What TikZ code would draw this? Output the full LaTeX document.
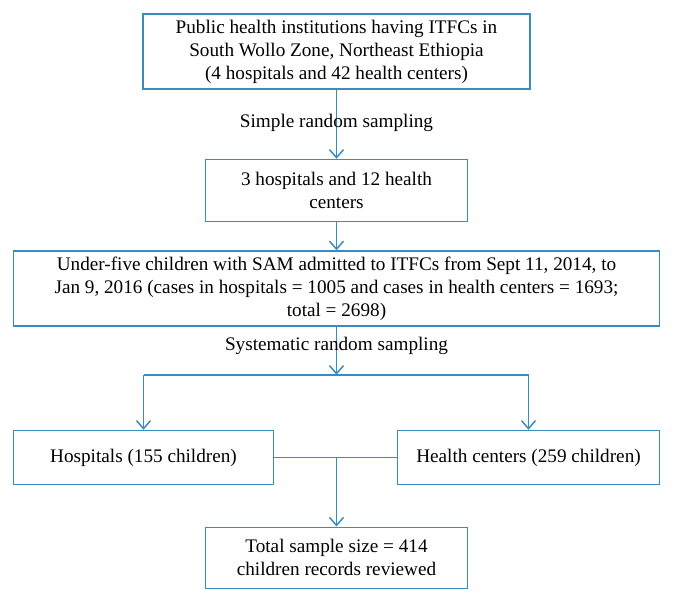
\documentclass[tikz,border=0pt]{standalone}
\usepackage{fontspec}
\setmainfont{Liberation Serif}
\usetikzlibrary{arrows.meta,positioning}

\definecolor{flowblue}{RGB}{58,140,190}

\begin{document}
\begin{tikzpicture}[
  x=1pt, y=1pt,
  font=\fontsize{19.2}{23}\selectfont,
  every node/.style={align=center},
  box/.style={draw=flowblue, line width=1.5pt, inner sep=2pt},
  arr/.style={-{Straight Barb[length=8pt,width=14pt]}, draw=flowblue, line width=1.5pt},
  lin/.style={draw=flowblue, line width=1.5pt},
]
\useasboundingbox (0,0) rectangle (674,-598);

\node[box, minimum width=387pt, minimum height=75pt] (inst) at (336.5,-51.5)
  {Public health institutions having ITFCs in\\South Wollo Zone, Northeast Ethiopia\\(4 hospitals and 42 health centers)};
\node[box, minimum width=262pt, minimum height=62pt, below=69pt of inst] (sel)
  {3 hospitals and 12 health\\centers};
\node[box, minimum width=646pt, minimum height=75pt, below=28pt of sel] (cases)
  {Under-five children with SAM admitted to ITFCs from Sept 11, 2014, to\\Jan 9, 2016 (cases in hospitals = 1005 and cases in health centers = 1693;\\total = 2698)};
\node[box, minimum width=260pt, minimum height=54pt, below=103pt of cases.south west, anchor=north west] (hosp)
  {Hospitals (155 children)};
\node[box, minimum width=262pt, minimum height=54pt, below=103pt of cases.south east, anchor=north east] (hc)
  {Health centers (259 children)};

\coordinate[below=48pt of cases.south] (split);
\coordinate (join) at (cases.south |- hosp.east);
\node[box, minimum width=262pt, minimum height=61pt, below=69pt of join] (total)
  {Total sample size = 414\\children records reviewed};

\draw[arr] (inst) -- node[pos=0.48] {Simple random sampling} (sel);
\draw[arr] (sel) -- (cases);
\draw[arr] (cases) -- node[pos=0.4] {Systematic random sampling} (split);
\draw[lin] (hosp.north |- split) -- (hc.north |- split);
\draw[arr] (hosp.north |- split) -- (hosp);
\draw[arr] (hc.north |- split) -- (hc);
\draw[lin] (hosp) -- (hc);
\draw[arr] (join) -- (total);
\end{tikzpicture}
\end{document}
